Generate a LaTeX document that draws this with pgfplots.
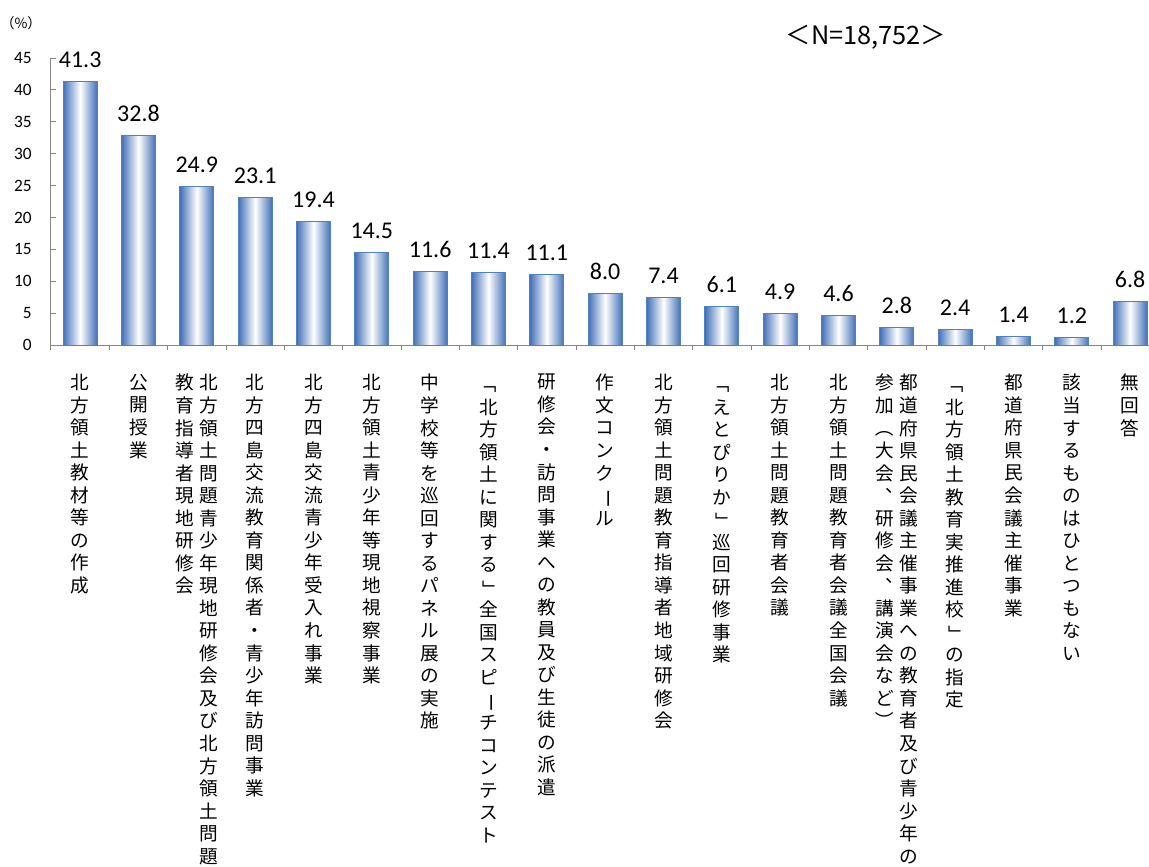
\documentclass[border=0pt]{standalone}
\usepackage{fontspec}
\usepackage{graphicx}
\usepackage{pgfplots}
\pgfplotsset{compat=1.18}
\setmainfont{Carlito}
\newfontfamily\cjk{Noto Sans CJK JP}
\definecolor{axisgray}{RGB}{134,134,134}
\definecolor{baredge}{RGB}{79,129,189}
\definecolor{barshade}{RGB}{66,112,184}

% vertical (tategaki) label: one character per line
\makeatletter
\newcommand\vstack[1]{\vtop{\baselineskip=16.9pt\lineskiplimit=-100pt\lineskip=0pt\vst@ck#1\relax}}
\def\vst@ck#1{\ifx#1\relax\else\hbox to 14pt{\hss#1\hss}\expandafter\vst@ck\fi}
% two columns, the first one on the right
\newcommand\vstacktwo[2]{\hbox{\vstack{#2}\kern4pt\vstack{#1}}}
\makeatother
% vertical forms of brackets, long vowel mark and comma
\newcommand\vLb{\rotatebox[origin=c]{-90}{「}}
\newcommand\vRb{\rotatebox[origin=c]{-90}{」}}
\newcommand\vLp{\rotatebox[origin=c]{-90}{（}}
\newcommand\vRp{\rotatebox[origin=c]{-90}{）}}
\newcommand\vBar{\rotatebox[origin=c]{-90}{ー}}
\newcommand\vComma{\makebox[1em][l]{\kern0.55em\raisebox{0.55em}{\makebox[0.45em][l]{、}}}}

\pgfplotsset{mybar/.style={draw=baredge, line width=0.75pt,
  left color=barshade, right color=barshade, middle color=white}}

\begin{document}
\begin{tikzpicture}[x=1pt,y=1pt]
\useasboundingbox (-38.25,-391.5) rectangle (823.5,258.75);
\begin{axis}[
  at={(0,0)}, anchor=south west,
  scale only axis, width=831.25pt, height=215.25pt,
  xmin=-0.5, xmax=18.5, ymin=0, ymax=45,
  clip=false,
  axis x line*=bottom, axis y line*=left,
  axis line style={axisgray, line width=0.75pt},
  tick style={axisgray, line width=0.75pt},
  tick align=inside, major tick length=3.75pt,
  ytick={0,5,...,45},
  yticklabel style={font=\fontsize{13}{15}\selectfont, inner sep=0pt, anchor=east, xshift=-14.25pt},
  /pgf/number format/assume math mode=true,
  xtick={-0.5,0.5,...,17.5},
  xticklabel style={font=\cjk\fontsize{14}{16.9}\selectfont, inner sep=0pt, anchor=north, yshift=-18pt, xshift=21.875pt},
  xticklabels={
    {\vstack{北方領土教材等の作成}},
    {\vstack{公開授業}},
    {\vstacktwo{北方領土問題青少年現地研修会及び北方領土問題}{教育指導者現地研修会}},
    {\vstack{北方四島交流教育関係者・青少年訪問事業}},
    {\vstack{北方四島交流青少年受入れ事業}},
    {\vstack{北方領土青少年等現地視察事業}},
    {\vstack{中学校等を巡回するパネル展の実施}},
    {\vstack{\vLb 北方領土に関する\vRb 全国スピ\vBar チコンテスト}},
    {\vstack{研修会・訪問事業への教員及び生徒の派遣}},
    {\vstack{作文コンク\vBar ル}},
    {\vstack{北方領土問題教育指導者地域研修会}},
    {\vstack{\vLb えとぴりか\vRb 巡回研修事業}},
    {\vstack{北方領土問題教育者会議}},
    {\vstack{北方領土問題教育者会議全国会議}},
    {\vstacktwo{都道府県民会議主催事業への教育者及び青少年の}{参加\vLp 大会\vComma 研修会\vComma 講演会など\vRp}},
    {\vstack{\vLb 北方領土教育実推進校\vRb の指定}},
    {\vstack{都道府県民会議主催事業}},
    {\vstack{該当するものはひとつもない}},
    {\vstack{無回答}}
  },
  ybar, bar width=25.5pt, bar shift=0pt,
  nodes near coords={\pgfmathprintnumber[fixed,fixed zerofill,precision=1]{\pgfplotspointmeta}},
  every node near coord/.append style={font=\fontsize{18}{20}\selectfont, text=black, anchor=base, yshift=10.5pt},
]
% one plot per bar, so that every bar gets its own shading
\addplot[mybar] coordinates {(0,41.3)};
\addplot[mybar] coordinates {(1,32.8)};
\addplot[mybar] coordinates {(2,24.9)};
\addplot[mybar] coordinates {(3,23.1)};
\addplot[mybar] coordinates {(4,19.4)};
\addplot[mybar] coordinates {(5,14.5)};
\addplot[mybar] coordinates {(6,11.6)};
\addplot[mybar] coordinates {(7,11.4)};
\addplot[mybar] coordinates {(8,11.1)};
\addplot[mybar] coordinates {(9,8.0)};
\addplot[mybar] coordinates {(10,7.4)};
\addplot[mybar] coordinates {(11,6.1)};
\addplot[mybar] coordinates {(12,4.9)};
\addplot[mybar] coordinates {(13,4.6)};
\addplot[mybar] coordinates {(14,2.8)};
\addplot[mybar] coordinates {(15,2.4)};
\addplot[mybar] coordinates {(16,1.4)};
\addplot[mybar] coordinates {(17,1.2)};
\addplot[mybar] coordinates {(18,6.8)};
\end{axis}
\node[font=\cjk\fontsize{10.5}{12}\selectfont] at (-22.5,241.5) {（\%）};
\node[font=\cjk\fontsize{19}{21}\selectfont] at (611.25,231) {＜N=18,752＞};
\end{tikzpicture}
\end{document}
